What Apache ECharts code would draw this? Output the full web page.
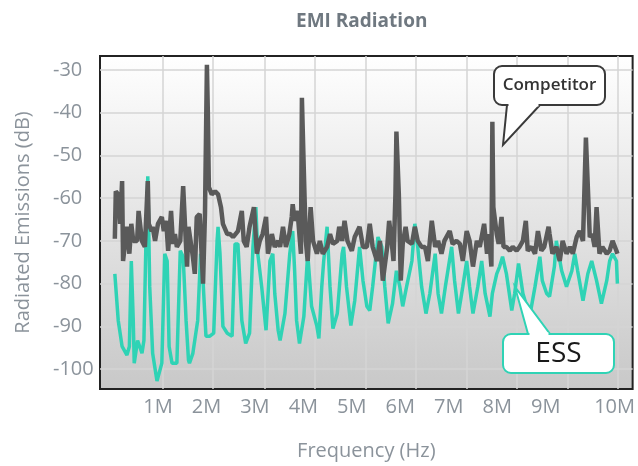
<!DOCTYPE html>
<html>
<head>
<meta charset="utf-8">
<script src="https://cdn.jsdelivr.net/npm/echarts@6/dist/echarts.min.js"></script>
<style>
  html, body { margin: 0; padding: 0; background: #fff; }
  #chart { width: 638px; height: 466px; }
</style>
</head>
<body>
<div id="chart"></div>
<script>
// frequencies in MHz, levels in dB
var essFreq = [0.11, 0.18, 0.26, 0.36, 0.41, 0.45, 0.49, 0.51, 0.58, 0.67, 0.71, 0.75, 0.79, 0.83, 0.89, 0.98, 1.08, 1.14, 1.19, 1.23,
  1.29, 1.39, 1.46, 1.52, 1.58, 1.63, 1.65, 1.72, 1.82, 1.88, 1.93, 1.99, 2.07, 2.15, 2.22, 2.24, 2.28, 2.34, 2.43, 2.53,
  2.59, 2.65, 2.73, 2.81, 2.89, 2.96, 3.02, 3.06, 3.14, 3.23, 3.31, 3.37, 3.41, 3.48, 3.52, 3.62, 3.72, 3.78, 3.82, 3.86,
  3.92, 4.01, 4.09, 4.17, 4.28, 4.32, 4.38, 4.42, 4.49, 4.55, 4.61, 4.70, 4.80, 4.83, 4.89, 4.98, 5.06, 5.16, 5.23, 5.31,
  5.37, 5.43, 5.54, 5.62, 5.68, 5.75, 5.84, 5.92, 5.99, 6.05, 6.13, 6.24, 6.30, 6.36, 6.44, 6.53, 6.61, 6.72, 6.78, 6.85,
  6.93, 7.06, 7.12, 7.20, 7.29, 7.37, 7.43, 7.50, 7.60, 7.68, 7.75, 7.85, 7.90, 7.99, 8.05, 8.11, 8.19, 8.30, 8.36, 8.44,
  8.53, 8.67, 8.78, 8.88, 8.93, 9.02, 9.08, 9.18, 9.22, 9.33, 9.43, 9.54, 9.60, 9.66, 9.77, 9.87, 9.95, 10.05, 10.15, 10.26,
  10.32, 10.38, 10.46, 10.48];
var essDb = [-77.7, -88.6, -94.7, -96.7, -94.7, -74.7, -88.6, -98.6, -93.3, -96.3, -93.3, -71.4, -54.9, -80.7, -96.3, -102.8, -98.6, -73.0, -74.7, -94.7,
  -98.6, -98.6, -72.3, -73.7, -88.6, -97.9, -98.6, -96.3, -88.6, -73.0, -79.3, -92.3, -92.3, -91.6, -70.0, -66.7, -73.0, -90.0, -91.6, -92.3,
  -70.7, -70.7, -88.6, -94.0, -91.6, -71.4, -62.1, -73.0, -80.7, -90.9, -74.7, -73.0, -82.3, -90.9, -93.3, -87.0, -73.0, -67.7, -77.0, -88.6,
  -94.0, -87.7, -73.0, -85.3, -90.0, -92.8, -80.7, -74.7, -66.7, -80.7, -90.5, -87.0, -73.0, -71.4, -80.7, -89.8, -84.0, -71.4, -79.3, -85.3,
  -86.3, -80.7, -69.1, -71.4, -80.7, -89.3, -84.7, -77.0, -80.7, -85.3, -80.7, -74.7, -66.0, -71.4, -80.7, -87.0, -82.3, -73.0, -82.3, -87.0,
  -80.7, -71.4, -79.3, -87.0, -80.7, -74.7, -80.7, -87.0, -80.7, -74.7, -82.3, -87.7, -82.3, -77.7, -76.0, -73.7, -77.7, -86.3, -82.3, -75.3,
  -82.3, -87.7, -80.7, -73.7, -79.3, -82.3, -83.0, -76.0, -70.0, -77.0, -80.7, -77.0, -73.0, -77.0, -84.0, -77.7, -74.7, -79.3, -84.7, -79.3,
  -74.7, -73.0, -74.7, -80.0];

var compFreq = [0.11, 0.13, 0.18, 0.22, 0.26, 0.28, 0.32, 0.36, 0.41, 0.45, 0.49, 0.57, 0.60, 0.67, 0.73, 0.79, 0.81, 0.87, 0.89, 0.94,
  1.00, 1.08, 1.12, 1.17, 1.21, 1.27, 1.31, 1.35, 1.39, 1.46, 1.52, 1.56, 1.60, 1.63, 1.72, 1.76, 1.80, 1.86, 1.93, 1.97,
  2.01, 2.03, 2.05, 2.11, 2.18, 2.24, 2.30, 2.34, 2.43, 2.49, 2.55, 2.65, 2.73, 2.77, 2.83, 2.89, 2.98, 3.04, 3.10, 3.16,
  3.23, 3.27, 3.35, 3.41, 3.48, 3.52, 3.58, 3.64, 3.71, 3.76, 3.78, 3.82, 3.88, 3.95, 3.97, 4.01, 4.05, 4.09, 4.15, 4.20,
  4.28, 4.34, 4.40, 4.49, 4.55, 4.61, 4.70, 4.74, 4.80, 4.85, 4.91, 5.00, 5.06, 5.16, 5.23, 5.31, 5.37, 5.43, 5.52, 5.58,
  5.64, 5.73, 5.77, 5.82, 5.86, 5.90, 5.92, 5.97, 6.01, 6.05, 6.11, 6.15, 6.24, 6.30, 6.36, 6.44, 6.51, 6.57, 6.65, 6.72,
  6.78, 6.85, 6.91, 7.02, 7.08, 7.16, 7.23, 7.29, 7.37, 7.43, 7.50, 7.58, 7.64, 7.73, 7.79, 7.83, 7.88, 7.90, 7.92, 7.99,
  8.03, 8.09, 8.13, 8.19, 8.26, 8.32, 8.40, 8.46, 8.53, 8.59, 8.63, 8.71, 8.78, 8.84, 8.91, 8.97, 9.06, 9.08, 9.14, 9.22,
  9.29, 9.35, 9.43, 9.50, 9.56, 9.64, 9.70, 9.77, 9.83, 9.87, 9.91, 9.96, 10.01, 10.05, 10.11, 10.17, 10.26, 10.32, 10.38, 10.46,
  10.48];
var compDb = [-69.5, -58.4, -59.1, -66.0, -56.0, -74.7, -74.7, -66.7, -73.0, -66.0, -70.0, -70.0, -63.0, -70.0, -71.4, -56.0, -66.0, -67.7, -66.7, -70.0,
  -66.0, -64.4, -67.7, -65.3, -72.3, -63.0, -70.7, -68.4, -71.4, -70.0, -57.2, -66.7, -76.0, -66.7, -73.7, -77.7, -64.4, -63.7, -80.0, -63.7,
  -28.8, -40.5, -57.4, -59.1, -58.4, -59.1, -62.1, -66.0, -68.4, -68.4, -69.1, -67.7, -63.0, -70.0, -71.4, -66.7, -62.1, -73.0, -70.0, -68.4,
  -64.4, -73.0, -68.4, -71.4, -70.0, -71.4, -66.7, -71.4, -68.4, -64.4, -61.4, -65.3, -63.0, -73.0, -36.5, -53.7, -70.0, -74.7, -62.1, -70.0,
  -73.0, -70.0, -73.0, -71.4, -68.4, -70.7, -70.0, -66.7, -70.0, -65.3, -70.0, -72.3, -69.1, -66.7, -71.4, -71.4, -66.0, -71.4, -74.7, -70.0,
  -79.3, -71.4, -65.3, -70.0, -74.7, -59.1, -44.4, -59.1, -79.3, -70.7, -66.7, -70.0, -70.7, -66.7, -70.0, -71.4, -71.4, -74.7, -65.3, -71.4,
  -70.0, -73.0, -70.0, -67.7, -70.7, -70.0, -70.7, -74.7, -67.7, -70.0, -76.0, -70.0, -71.4, -66.0, -73.0, -68.4, -76.0, -42.1, -62.1, -68.4,
  -70.7, -64.4, -71.4, -71.4, -72.3, -71.4, -72.3, -71.4, -70.0, -65.3, -72.3, -71.4, -73.0, -67.7, -72.3, -71.4, -66.7, -68.4, -73.0, -71.4,
  -74.7, -70.0, -73.0, -71.4, -73.0, -69.1, -67.7, -70.0, -45.8, -57.4, -69.1, -68.4, -71.4, -62.1, -73.0, -71.4, -73.0, -72.3, -70.0, -72.3,
  -73.0];

var xTicks = [1, 2, 3, 4, 5, 6, 7, 8, 9, 10];
var yTicks = [-100, -90, -80, -70, -60, -50, -40, -30];
// the picture's vertical grid lines do not sit on the labelled frequencies
var xGridLines = [1.103, 2.134, 3.206, 4.237, 5.28, 6.320, 7.371, 8.402, 9.454, 10.485];

function pairs(xs, ys) {
  var out = [];
  for (var i = 0; i < xs.length; i++) out.push([xs[i], ys[i]]);
  return out;
}

// speech-bubble callout: rounded box + pointer triangle, seam hidden with a white line
function callout(box, tip, base, stroke) {
  return [
    { type: 'rect', shape: { x: box[0], y: box[1], width: box[2], height: box[3], r: 8 },
      style: { fill: '#fff', stroke: stroke, lineWidth: 2 }, z: 100 },
    { type: 'polygon', shape: { points: [[base[0], base[2]], tip, [base[1], base[2]]] },
      style: { fill: '#fff', stroke: stroke, lineWidth: 2 }, z: 101 },
    { type: 'line', shape: { x1: base[0] + 1.5, y1: base[2], x2: base[1] - 1.5, y2: base[2] },
      style: { stroke: '#fff', lineWidth: 3 }, z: 102 }
  ];
}

var chartDom = document.getElementById('chart');
var myChart = echarts.init(chartDom);
var option;

var labelFont = "'Open Sans', 'Noto Sans', sans-serif";
var labelColor = '#8b939b';
var gridColor = '#d4d4d4';
var xMin = -0.196, xMax = 10.794;

var graphics = []
  .concat(callout([494, 66, 111, 39], [503, 145], [507, 540, 105], '#3a3a3a'))
  .concat(callout([503, 334, 111, 39], [515, 287], [528, 550, 334], '#2fd3b5'));
graphics.push({
  type: 'text', x: 549.5, y: 85.5, z: 103,
  style: { text: 'Competitor', fontSize: 17, fontWeight: 600, fill: '#333', align: 'center', verticalAlign: 'middle', fontFamily: labelFont }
});
graphics.push({
  type: 'text', x: 558.5, y: 354, z: 103,
  style: { text: 'ESS', fontSize: 28, fontWeight: 500, fill: '#1a1a1a', align: 'center', verticalAlign: 'middle', fontFamily: labelFont }
});

option = {
  animation: false,
  title: {
    text: 'EMI Radiation',
    left: 291,
    top: 7,
    textStyle: { fontSize: 19, fontWeight: 'bold', color: '#6f7880', fontFamily: labelFont }
  },
  grid: {
    left: 100, right: 5, top: 56, bottom: 75,
    show: true,
    borderColor: '#222',
    borderWidth: 2,
    backgroundColor: {
      type: 'linear', x: 0, y: 0, x2: 0, y2: 1,
      colorStops: [{ offset: 0, color: '#ffffff' }, { offset: 1, color: '#c8c8c8' }]
    }
  },
  xAxis: [
    {
      type: 'value',
      min: xMin,
      max: xMax,
      name: 'Frequency (Hz)',
      nameLocation: 'middle',
      nameGap: 52,
      nameTextStyle: { fontSize: 20, color: labelColor, fontFamily: labelFont },
      axisLine: { show: false },
      axisTick: { show: false, customValues: xTicks },
      axisLabel: {
        customValues: xTicks,
        alignMaxLabel: 'left',
        fontSize: 20, color: labelColor, fontFamily: labelFont, margin: 8,
        formatter: function (v) { return v + 'M'; }
      },
      splitLine: { show: false }
    },
    {
      type: 'value',
      min: xMin,
      max: xMax,
      position: 'bottom',
      axisLine: { show: false },
      axisTick: { show: false, customValues: xGridLines },
      axisLabel: { show: false },
      splitLine: { show: true, lineStyle: { color: gridColor, width: 1.5 } }
    }
  ],
  yAxis: {
    type: 'value',
    min: -104.65,
    max: -26.74,
    name: 'Radiated Emissions (dB)',
    nameLocation: 'middle',
    nameGap: 67,
    nameTextStyle: { fontSize: 20, color: labelColor, fontFamily: labelFont },
    axisLine: { show: false },
    axisTick: { show: false, customValues: yTicks },
    axisLabel: {
      customValues: yTicks,
      align: 'left', margin: 47,
      fontSize: 20, color: labelColor, fontFamily: labelFont
    },
    splitLine: { show: true, lineStyle: { color: gridColor, width: 1.5 } }
  },
  series: [
    {
      name: 'ESS',
      type: 'line',
      data: pairs(essFreq, essDb),
      showSymbol: false,
      lineStyle: { color: '#2fd3b5', width: 3.5 },
      itemStyle: { color: '#2fd3b5' }
    },
    {
      name: 'Competitor',
      type: 'line',
      data: pairs(compFreq, compDb),
      showSymbol: false,
      lineStyle: { color: '#5a5a5a', width: 4.5 },
      itemStyle: { color: '#5a5a5a' }
    }
  ],
  graphic: graphics
};

option && myChart.setOption(option);
</script>
</body>
</html>
